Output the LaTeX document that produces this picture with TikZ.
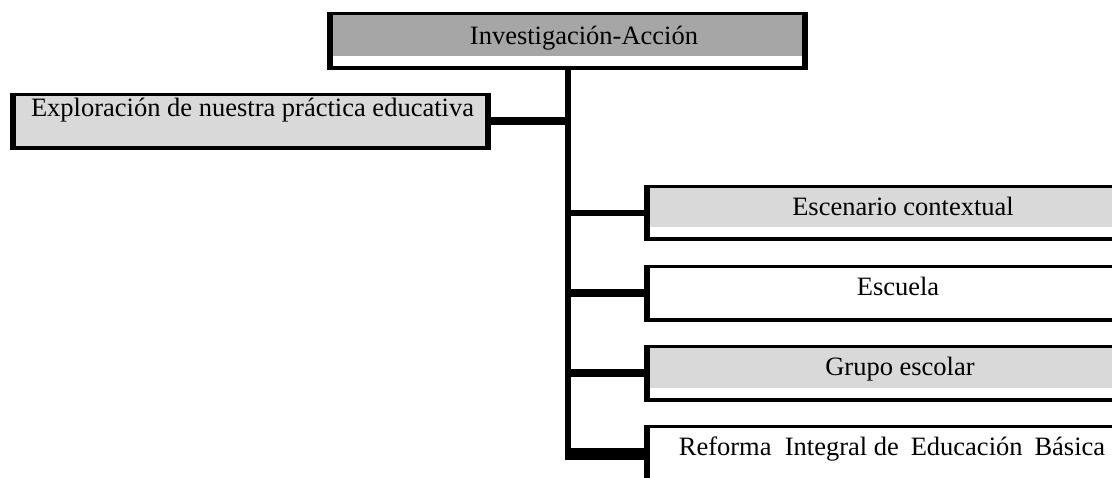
\documentclass[tikz,border=0pt]{standalone}
\usepackage{fontspec}
\setmainfont{Liberation Serif}
\usepackage{tikz}
\definecolor{darkband}{HTML}{A6A6A6}
\definecolor{lightband}{HTML}{D9D9D9}
\tikzset{
	box/.style={draw=black, line width=3.5pt, inner sep=0pt, minimum width=477.5pt, minimum height=53.5pt},
	rbox/.style={box, minimum width=508.5pt},
	sides/.style={path picture={\fill[#1] (path picture bounding box.north west) rectangle ([yshift=12pt]path picture bounding box.south east);
		\fill[black] (path picture bounding box.north west) rectangle ([xshift=4.25pt]path picture bounding box.south west);
		\fill[black] (path picture bounding box.north east) rectangle ([xshift=-4.25pt]path picture bounding box.south east);}},
	fullband/.style={fill=lightband, path picture={\fill[black] (path picture bounding box.north west) rectangle ([xshift=4.25pt]path picture bounding box.south west);
		\fill[black] (path picture bounding box.north east) rectangle ([xshift=-4.25pt]path picture bounding box.south east);}},
	txt/.style={anchor=base, inner sep=0pt, font=\fontsize{26.5}{30}\selectfont}
}

\begin{document}
\begin{tikzpicture}[x=1pt, y=-1pt]
			%%%%% START %%%%%
			\useasboundingbox (0, 0) rectangle (1112, 478);
			\clip (0, 0) rectangle (1112, 478);
			
			% title box
			\node[box, sides=darkband, minimum height=54.5pt] (top) at (567.5, 41) {};
			\node[txt] (ttop) at (584, 45) {Investigación-Acción};
			
			% left box
			\node[box, fullband] (explo) at (250.5, 121.5) {};
			\node[txt] (texplo) at (252.5, 117) {Exploración de nuestra práctica educativa};
			
			% right boxes
			\node[rbox, sides=lightband, minimum height=52.5pt] (escenario) at (900, 213) {};
			\node[txt] (tescenario) at (903, 216) {Escenario contextual};
			
			\node[rbox, sides=white] (escuela) at (900, 293.5) {};
			\node[txt] (tescuela) at (898, 296) {Escuela};
			
			\node[rbox, sides=lightband] (grupo) at (900, 373.5) {};
			\node[txt] (tgrupo) at (900, 376) {Grupo escolar};
			
			\node[rbox, sides=white, minimum height=54.5pt] (reforma) at (900, 454) {};
			\node[txt] (treforma) at (892, 456) {Reforma\hspace{0.25em} Integral de\hspace{0.2em} Educación\hspace{0.2em} Básica};
			
			% trunk and branches
			\draw[line width=6pt] (top.south) -- (top.south |- reforma.west);
			\draw[line width=8pt] (explo.east) -- (explo.east -| top.south);
			\draw[line width=6pt] (top.south |- escenario.west) -- (escenario.west);
			\draw[line width=8pt] (top.south |- escuela.west) -- (escuela.west);
			\draw[line width=8pt] (top.south |- grupo.west) -- (grupo.west);
			\draw[line width=12pt] ([xshift=-3pt]top.south |- reforma.west) -- (reforma.west);
			
			%%%%% END %%%%%
		\end{tikzpicture}
\end{document}
